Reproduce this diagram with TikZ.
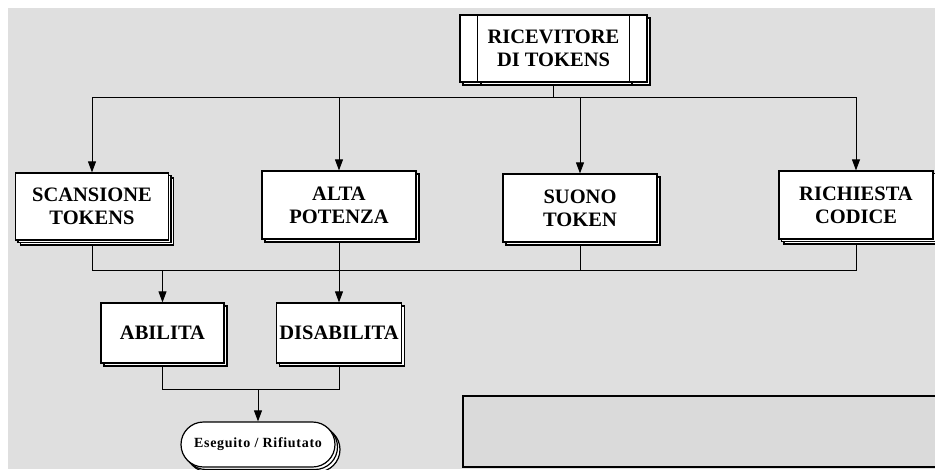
\documentclass[tikz,border=0pt]{standalone}
\usepackage{fontspec}
\setmainfont{Liberation Serif}
\usetikzlibrary{shadows,arrows.meta,shapes.misc}
\pgfdeclarelayer{bg}
\pgfdeclarelayer{lines}
\pgfsetlayers{bg,lines,main}
\definecolor{bgc}{HTML}{DFDFDF}
\definecolor{panelc}{HTML}{DADADA}
\tikzset{
  box/.style={draw=black, fill=white, line width=1.2pt, inner sep=0pt,
    align=center, font=\fontsize{20.5}{23}\selectfont\bfseries},
  sh1/.style={copy shadow={shadow xshift=3pt, shadow yshift=-3pt}},
  sh2/.style={double copy shadow={shadow xshift=2.5pt, shadow yshift=-2.5pt}},
  conn/.style={draw=black, line width=0.9pt},
  arr/.style={conn, -{Triangle[length=11pt,width=8pt]}},
}
\begin{document}
\begin{tikzpicture}[x=1pt,y=-1pt]
\useasboundingbox (0,0) rectangle (935,469);
\begin{pgfonlayer}{bg}
\fill[bgc] (8,8) rectangle (935,469);
\fill[panelc] (463,396) rectangle (935,467);
\draw[line width=1.5pt] (935,396) -- (463,396) -- (463,467) -- (935,467);
\end{pgfonlayer}

% receiver with shadow and process lines
\draw[line width=1.2pt, fill=white] (463,18) rectangle (650,85);
\draw[line width=1.2pt] (481,18) -- (481,85) (632,18) -- (632,85);
\node[box, minimum width=187pt, minimum height=67pt] (rcv) at (553.5,48.5) {RICEVITORE\\DI TOKENS};
\draw[line width=1.2pt] ([xshift=18pt]rcv.north west) -- ([xshift=18pt]rcv.south west)
  ([xshift=-18pt]rcv.north east) -- ([xshift=-18pt]rcv.south east);

\node[box, sh2, minimum width=153pt, minimum height=67pt] (scan) at (92,206.5) {SCANSIONE\\TOKENS};
\node[box, sh1, minimum width=154pt, minimum height=68pt] (alta) at (339,205) {ALTA\\POTENZA};
\node[box, sh1, minimum width=154pt, minimum height=68pt] (suono) at (580,208) {SUONO\\TOKEN};
\node[box, sh2, minimum width=154pt, minimum height=68pt] (rich) at (856,205) {RICHIESTA\\CODICE};

\node[box, sh1, minimum width=123pt, minimum height=60pt] (abil) at (162.5,333) {ABILITA};
\node[box, sh1, minimum width=125pt, minimum height=60pt] (disab) at (339,333) {DISABILITA};

\node[box, sh2, rounded rectangle, minimum width=154pt, minimum height=45pt,
  font=\fontsize{14}{16}\selectfont\bfseries\addfontfeature{LetterSpace=5}] (eseg) at (258,444.5) {Eseguito / Rifiutato};

\coordinate (bus1) at (0,97);
\coordinate (bus2) at (0,270);
\coordinate (bus3) at (0,389);

\begin{pgfonlayer}{lines}
\draw[conn] (rcv.south) -- (rcv.south |- bus1);
\draw[conn] (scan.north |- bus1) -- (rich.north |- bus1);
\draw[arr] (scan.north |- bus1) -- (scan.north);
\draw[arr] (alta.north |- bus1) -- (alta.north);
\draw[arr] (suono.north |- bus1) -- (suono.north);
\draw[arr] (rich.north |- bus1) -- (rich.north);

\draw[conn] (scan.south) -- (scan.south |- bus2) -- (rich.south |- bus2) -- (rich.south);
\draw[conn] (alta.south) -- (alta.south |- bus2);
\draw[conn] (suono.south) -- (suono.south |- bus2);
\draw[arr] (abil.north |- bus2) -- (abil.north);
\draw[arr] (disab.north |- bus2) -- (disab.north);

\draw[conn] (abil.south) -- (abil.south |- bus3) -- (disab.south |- bus3) -- (disab.south);
\draw[arr] (eseg.north |- bus3) -- (eseg.north);
\end{pgfonlayer}
\end{tikzpicture}
\end{document}
